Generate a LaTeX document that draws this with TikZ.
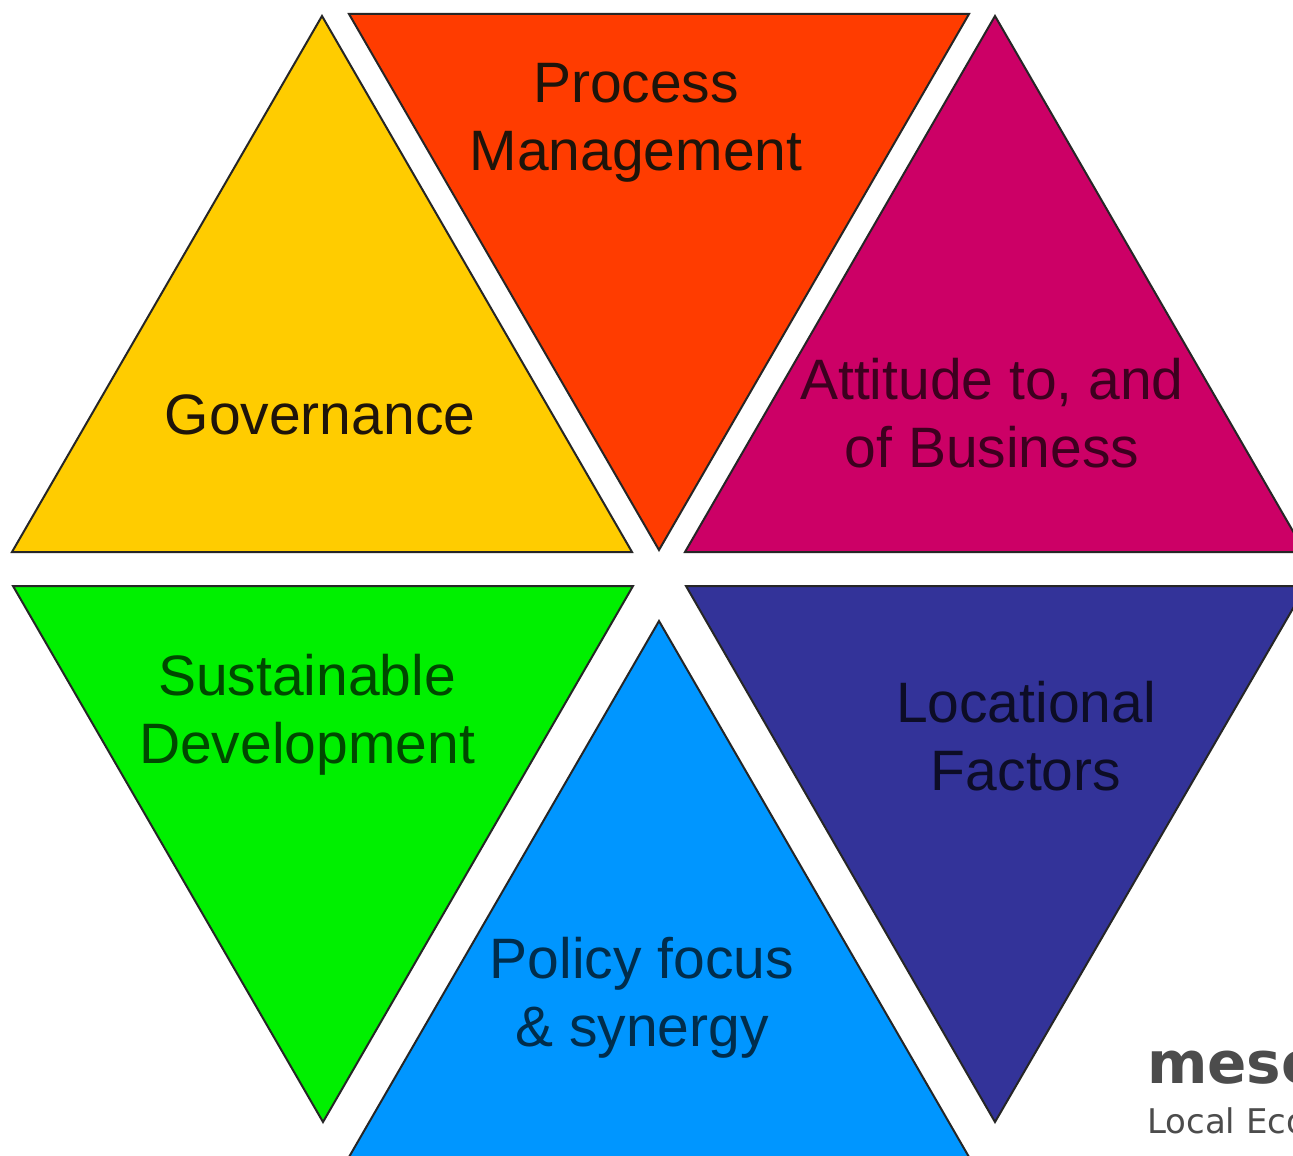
\documentclass[tikz,border=0pt]{standalone}
\usepackage{fontspec}
\setmainfont{Liberation Sans}
\newfontfamily\logofont{DejaVu Sans}
\definecolor{cyellow}{RGB}{255,204,0}
\definecolor{cred}{RGB}{255,60,0}
\definecolor{cmag}{RGB}{204,0,102}
\definecolor{cgreen}{RGB}{0,240,0}
\definecolor{cblue}{RGB}{0,150,255}
\definecolor{cnavy}{RGB}{51,51,153}
\definecolor{ctext}{RGB}{30,20,10}
\tikzset{
  tri/.style={draw=black!85,line width=2pt,line join=miter},
  lab/.style={font=\fontsize{57}{68}\selectfont,align=center,text=ctext,inner sep=0pt},
}
\begin{document}
\begin{tikzpicture}[x=1pt,y=-1pt]
\useasboundingbox (0,0) rectangle (1293,1156);
\clip (0,0) rectangle (1293,1156);
\fill[white] (0,0) rectangle (1293,1156);
\draw[tri,fill=cyellow] (322,16) -- (632,552) -- (12,552) -- cycle;
\draw[tri,fill=cred] (349,14) -- (969,14) -- (659,550) -- cycle;
\draw[tri,fill=cmag] (995,16) -- (1305,552) -- (685,552) -- cycle;
\draw[tri,fill=cgreen] (13,586) -- (633,586) -- (323,1122) -- cycle;
\draw[tri,fill=cblue] (659,621) -- (969,1157) -- (349,1157) -- cycle;
\draw[tri,fill=cnavy] (686,586) -- (1306,586) -- (995,1122) -- cycle;
\node[lab] (gov) at (320,415) {Governance};
\node[lab] (proc) at (636,123) {Process\\Management};
\node[lab,text=black!70!cmag] (att) at (992,413) {Attitude to, and\\of Business};
\node[lab,text=black!70!cgreen] (sus) at (307,715) {Sustainable\\Development};
\node[lab,text=black!70!cblue] (pol) at (642,998) {Policy focus\\\& synergy};
\node[lab,text=black!75!cnavy] (loc) at (1026,736) {Locational\\Factors};
\node[anchor=base west,inner sep=0pt,text=black!70,font=\logofont\bfseries\fontsize{58}{58}\selectfont] (logo) at (1147,1083) {meso};
\node[anchor=base west,inner sep=0pt,text=black!70,font=\logofont\fontsize{34}{34}\selectfont] (sub) at (1147,1133) {Local Eco};
\end{tikzpicture}
\end{document}
